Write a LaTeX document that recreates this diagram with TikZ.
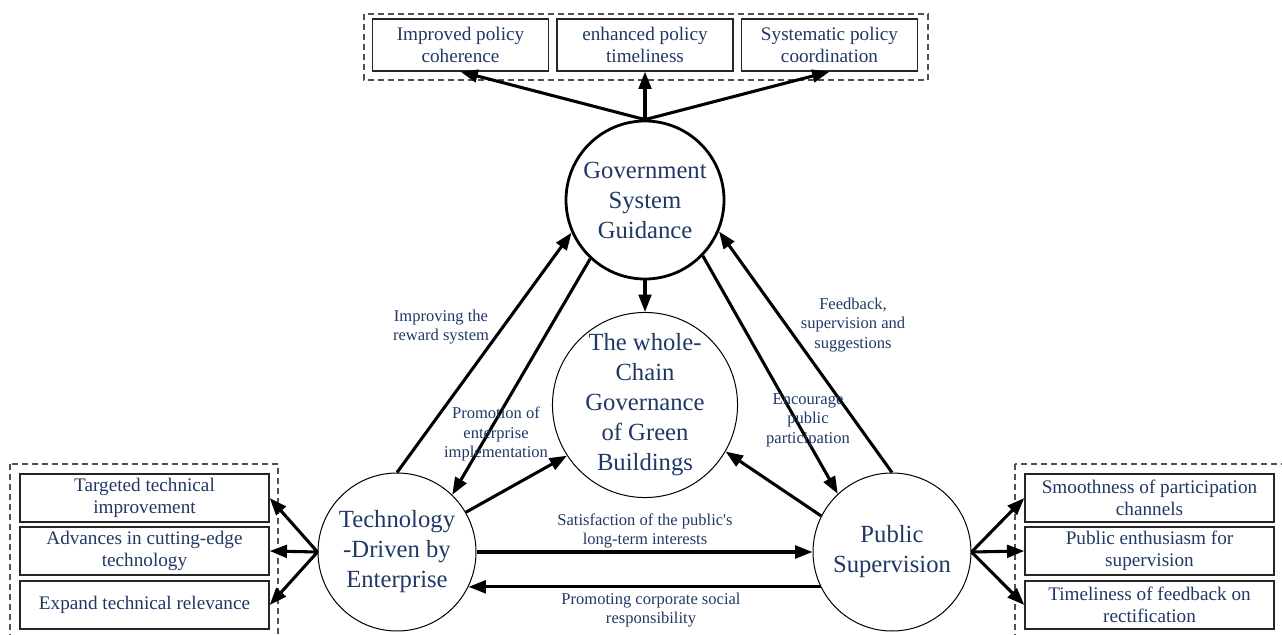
\documentclass[tikz,border=0pt]{standalone}
\usepackage{fontspec}
\setmainfont{Liberation Serif}
\newfontfamily\rawserif{Liberation Serif}
\usetikzlibrary{arrows.meta,calc}
\definecolor{txt}{RGB}{32,56,100}
\definecolor{dashgray}{RGB}{80,80,80}
\begin{document}
\begin{tikzpicture}[x=0.75pt,y=-0.75pt,
  arr/.style={line width=2.3pt,-{Triangle[length=13pt,width=9.5pt]}},
  outbox/.style={draw=black!85,line width=1pt,rectangle,inner sep=0pt,text=txt,align=center,
    font=\fontsize{14.4}{16.5}\selectfont},
  topbox/.style={outbox,minimum width=132pt,minimum height=39pt},
  sidebox/.style={outbox,minimum width=186.75pt,minimum height=36pt},
  circ/.style={draw=black,circle,inner sep=0pt,text=txt,align=center,
    font=\fontsize{18.5}{22.5}\selectfont},
  lab/.style={text=txt,align=center,inner sep=0pt,font=\fontsize{12.4}{14.6}\selectfont},
  grp/.style={draw=dashgray,line width=0.8pt,dash pattern=on 4.5pt off 3pt}
]
\useasboundingbox (0,0) rectangle (1282,635);
% group frames
\draw[grp] (364,14) rectangle (928,80);
\draw[grp] (10,464) rectangle (278,645);
\draw[grp] (1015,464) rectangle (1295,645);
% top boxes
\node[topbox] (t1) at (460.5,45) {Improved policy\\coherence};
\node[topbox] (t2) at (645,45) {enhanced policy\\timeliness};
\node[topbox] (t3) at (829.5,45) {Systematic policy\\coordination};
% left boxes
\node[sidebox] (l1) at (144.5,498) {Targeted technical\\improvement};
\node[sidebox] (l2) at (144.5,551) {Advances in cutting-edge\\technology};
\node[sidebox] (l3) at (144.5,605) {Expand technical relevance};
% right boxes
\node[sidebox] (r1) at (1149.5,498) {Smoothness of participation\\channels};
\node[sidebox] (r2) at (1149.5,551) {Public enthusiasm for\\supervision};
\node[sidebox] (r3) at (1149.5,605) {Timeliness of feedback on\\rectification};
% circles
\node[circ,line width=2.1pt,minimum size=118.5pt] (gov) at (645,200) {Government\\System\\Guidance};
\node[circ,line width=0.75pt,minimum size=133.5pt] (ctr) at (645,405) {The whole-\\Chain\\Governance\\of Green\\Buildings};
\node[circ,line width=0.75pt,minimum size=118.5pt] (tech) at (397,552) {Technology\\-Driven by\\Enterprise};
\node[circ,line width=0.75pt,minimum size=118.5pt] (pub) at (892,552) {Public\\Supervision};
% arrows to top boxes
\draw[arr] (gov.north) -- (t1.south);
\draw[arr] (gov.north) -- (t2.south);
\draw[arr] (gov.north) -- (t3.south);
% gov to centre
\draw[arr] (gov.south) -- (ctr.north);
% tech <-> gov
\draw[arr] (tech.north) -- (gov.204);
\draw[arr] (gov.227) -- (tech.46);
% tech -> centre
\draw[arr] (tech.30) -- (ctr.213);
% gov <-> public
\draw[arr] (gov.316) -- (pub.133);
\draw[arr] (pub.north) -- (gov.337);
% public -> centre
\draw[arr] (pub.153) -- (ctr.-30);
% tech <-> public
\draw[arr] (tech.east) -- (pub.west);
\draw[arr] (pub.206) -- (tech.-26);
% tech -> left boxes
\draw[arr] (tech.west) -- (l1.east);
\draw[arr] (tech.west) -- (l2.east);
\draw[arr] (tech.west) -- (l3.east);
% public -> right boxes
\draw[arr] (pub.east) -- (r1.west);
\draw[arr] (pub.east) -- (r2.west);
\draw[arr] (pub.east) -- (r3.west);
% labels
\node[lab] (la) at (441,327) {Improving the\\reward system};
\node[lab] (lb) at (496,434) {Promotion of\\enterprise\\implementation};
\node[lab] (lc) at (853,325) {Feedback,\\supervision and\\suggestions};
\node[lab] (ld) at (808,420) {Encourage\\public\\participation};
\node[lab] (le) at (645,531) {Satisfaction of the public{\rawserif'}s\\long-term interests};
\node[lab] (lf) at (651,610) {Promoting corporate social\\responsibility};
\end{tikzpicture}
\end{document}
